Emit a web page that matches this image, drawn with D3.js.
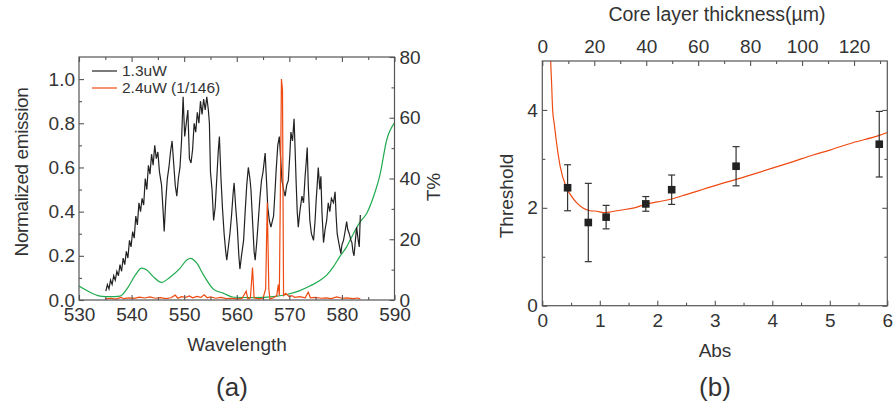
<!DOCTYPE html>
<meta charset="utf-8">
<style>
body { margin: 0; background: #fff; }
text { font-family: "Liberation Sans", Arial, sans-serif; fill: #333; }
.frame { fill: none; stroke: #555; stroke-width: 1.2px; }
.axis path { display: none; }
.axis line { stroke: #555; stroke-width: 1.1px; }
.axis text { font-size: 19px; fill: #333; }
.line { fill: none; stroke-width: 1.2px; }
</style>
<body>
<script src="https://d3js.org/d3.v7.min.js"></script>
<script>

// ---- panel (a) data ----
let emission13 = [[535.1,0.04],[535.4,0.07],[535.7,0.05],[536.0,0.09],[536.3,0.07],[536.6,0.11],[536.9,0.09],[537.2,0.13],[537.5,0.11],[537.8,0.16],[538.1,0.13],[538.4,0.19],[538.7,0.16],[539.0,0.22],[539.3,0.19],[539.6,0.27],[539.9,0.24],[540.2,0.31],[540.5,0.28],[540.8,0.38],[541.1,0.34],[541.4,0.44],[541.7,0.40],[542.0,0.46],[542.3,0.43],[542.6,0.55],[542.9,0.50],[543.2,0.61],[543.5,0.57],[543.8,0.66],[544.1,0.61],[544.4,0.70],[544.7,0.64],[545.0,0.67],[545.3,0.58],[545.7,0.52],[546.0,0.40],[546.2,0.31],[546.5,0.45],[546.8,0.55],[547.1,0.60],[547.4,0.67],[547.7,0.72],[548.0,0.62],[548.3,0.52],[548.6,0.47],[548.9,0.55],[549.2,0.60],[549.5,0.72],[549.8,0.92],[550.1,0.74],[550.4,0.80],[550.7,0.86],[551.0,0.64],[551.3,0.62],[551.6,0.68],[551.9,0.80],[552.2,0.76],[552.5,0.85],[552.8,0.80],[553.1,0.90],[553.4,0.84],[553.7,0.91],[554.0,0.86],[554.3,0.92],[554.6,0.86],[554.8,0.80],[555.0,0.58],[555.3,0.50],[555.6,0.36],[555.9,0.42],[556.2,0.55],[556.5,0.68],[556.7,0.74],[557.0,0.55],[557.3,0.41],[557.6,0.30],[557.9,0.22],[558.1,0.18],[558.4,0.24],[558.7,0.30],[559.0,0.38],[559.3,0.48],[559.5,0.53],[559.8,0.42],[560.1,0.33],[560.4,0.20],[560.6,0.14],[560.9,0.20],[561.3,0.27],[561.6,0.40],[561.9,0.52],[562.2,0.60],[562.5,0.55],[562.7,0.50],[563.0,0.36],[563.3,0.22],[563.5,0.18],[563.8,0.26],[564.1,0.36],[564.4,0.46],[564.7,0.54],[565.0,0.58],[565.4,0.665],[565.7,0.52],[565.9,0.42],[566.2,0.36],[566.5,0.33],[566.8,0.36],[567.0,0.38],[567.3,0.50],[567.5,0.59],[567.8,0.70],[568.1,0.74],[568.4,0.62],[568.6,0.54],[568.9,0.50],[569.2,0.47],[569.5,0.52],[569.8,0.54],[570.1,0.66],[570.3,0.76],[570.6,0.72],[570.9,0.82],[571.1,0.68],[571.3,0.53],[571.5,0.40],[571.7,0.33],[572.0,0.40],[572.4,0.47],[572.7,0.44],[573.0,0.56],[573.2,0.62],[573.4,0.69],[573.6,0.52],[573.9,0.36],[574.2,0.30],[574.6,0.27],[574.9,0.36],[575.1,0.45],[575.3,0.52],[575.5,0.60],[575.8,0.50],[576.0,0.56],[576.2,0.40],[576.5,0.26],[576.8,0.32],[577.1,0.36],[577.4,0.44],[577.7,0.40],[578.0,0.46],[578.4,0.44],[578.7,0.49],[578.9,0.38],[579.1,0.30],[579.4,0.26],[579.8,0.21],[580.0,0.25],[580.3,0.27],[580.6,0.31],[580.9,0.355],[581.1,0.32],[581.4,0.30],[581.7,0.27],[581.9,0.26],[582.1,0.22],[582.3,0.20],[582.6,0.28],[582.8,0.33],[583.1,0.27],[583.3,0.24],[583.5,0.385]];

let emission24 = [[535.0,0.005],[536.0,0.008],[537.0,0.004],[538.0,0.012],[538.5,0.006],[539.5,0.010],[540.5,0.007],[541.5,0.013],[542.5,0.009],[543.5,0.014],[544.5,0.008],[545.5,0.011],[546.5,0.006],[547.5,0.010],[548.3,0.022],[548.8,0.008],[549.5,0.015],[550.3,0.012],[551.0,0.018],[551.6,0.010],[552.4,0.016],[553.2,0.012],[553.8,0.024],[554.4,0.010],[555.0,0.014],[556.0,0.008],[557.0,0.012],[558.0,0.006],[559.0,0.008],[560.0,0.005],[561.0,0.007],[561.8,0.040],[562.1,0.005],[562.6,0.010],[563.0,0.147],[563.3,0.010],[564.0,0.006],[565.0,0.008],[565.5,0.050],[565.8,0.440],[566.1,0.050],[566.3,0.005],[567.0,0.010],[567.6,0.020],[567.9,0.070],[568.1,0.020],[568.3,0.500],[568.5,1.000],[568.7,0.950],[568.9,0.020],[569.3,0.030],[570.0,0.015],[570.5,0.020],[571.0,0.012],[572.0,0.015],[573.0,0.010],[573.6,0.035],[574.0,0.010],[575.0,0.012],[576.0,0.008],[577.0,0.010],[578.0,0.006],[579.0,0.014],[580.0,0.008],[581.0,0.010],[582.0,0.006],[583.0,0.009],[583.5,0.005]];

let transmission = [[530,4.6],[531.5,3.1],[534.0,1.3],[535.9,1.1],[537.8,1.3],[539.4,4.4],[540.7,8.2],[541.9,10.5],[542.9,9.9],[544.1,7.7],[545.7,5.8],[547.3,7.5],[549.2,10.4],[550.5,13.2],[551.2,13.7],[552.4,12.1],[553.7,8.2],[555.6,3.5],[557.5,2.2],[559.4,0.9],[563.2,0.8],[567.0,1.1],[569.5,1.8],[572.0,3.1],[573.9,4.6],[575.8,6.4],[577.1,8.2],[578.4,11.0],[579.6,14.3],[580.9,17.5],[582.2,21.9],[583.5,25.8],[584.7,28.5],[586.0,34.0],[587.3,41.7],[588.5,52.6],[590,58.3]];

let legendLabels = ["1.3uW", "2.4uW (1/146)"];

// ---- panel (b) data ----
let absValues = [0.44, 0.80, 1.11, 1.80, 2.25, 3.37, 5.86];
let thresholdValues = [2.41, 1.70, 1.81, 2.08, 2.37, 2.85, 3.30];
let thresholdErr = [0.47, 0.80, 0.24, 0.15, 0.30, 0.40, 0.67];
let fitCurve = [[0.140,5.3],[0.146,5.0],[0.16,4.6],[0.18,4.0],[0.21,3.7],[0.24,3.40],[0.31,2.85],[0.42,2.41],[0.5,2.25],[0.6,2.10],[0.7,2.0],[0.83,1.94],[0.95,1.93],[1.06,1.90],[1.2,1.92],[1.35,1.95],[1.6,2.0],[1.82,2.08],[2.0,2.12],[2.25,2.18],[2.5,2.27],[2.8,2.38],[3.1,2.49],[3.37,2.58],[3.7,2.70],[4.0,2.81],[4.35,2.94],[4.71,3.08],[5.0,3.18],[5.4,3.33],[5.86,3.48],[6.0,3.54]];

let W = 893, H = 411;
let svg = d3.select("body").append("svg").attr("width", W).attr("height", H);

function frame(g, x0, x1, y0, y1) {
    g.append("rect").attr("class", "frame")
        .attr("x", x0).attr("y", y1).attr("width", x1 - x0).attr("height", y0 - y1);
}

function ticks(g, axisFn, scale, major, minor, fmt, pad, pos) {
    let a = g.append("g").attr("class", "axis").attr("transform", pos)
        .call(axisFn(scale).tickValues(major).tickSize(-5).tickPadding(pad).tickFormat(fmt));
    g.append("g").attr("class", "axis").attr("transform", pos)
        .call(axisFn(scale).tickValues(minor).tickSize(-3).tickFormat(""));
    return a;
}

// ===== panel (a) =====
let ga = svg.append("g");
let xa = d3.scaleLinear().domain([530, 590]).range([79, 394.5]);
let ya = d3.scaleLinear().domain([0, 1.1]).range([300, 57]);
let yt = d3.scaleLinear().domain([0, 80]).range([300, 57]);

ga.append("clipPath").attr("id", "clipA").append("rect")
    .attr("x", 79).attr("y", 57).attr("width", 315.5).attr("height", 243);

let lineA = d3.line().x(d => xa(d[0])).y(d => ya(d[1]));
let lineT = d3.line().x(d => xa(d[0])).y(d => yt(d[1])).curve(d3.curveMonotoneX);

ga.append("path").datum(transmission).attr("class", "line")
    .attr("clip-path", "url(#clipA)").attr("stroke", "#1faa4e").attr("d", lineT);
ga.append("path").datum(emission13).attr("class", "line")
    .attr("stroke", "#222").attr("d", lineA);
ga.append("path").datum(emission24).attr("class", "line")
    .attr("stroke", "#ee4a12").attr("d", lineA);

frame(ga, 79, 394.5, 300, 57);
ticks(ga, d3.axisBottom, xa, d3.range(530, 591, 10), d3.range(535, 590, 10), d3.format("d"), 8, "translate(0,300)");
ticks(ga, d3.axisTop, xa, d3.range(530, 591, 10), d3.range(535, 590, 10), "", 0, "translate(0,57)");
ticks(ga, d3.axisLeft, ya, d3.range(0, 1.01, 0.2), d3.range(0.1, 1.1, 0.2), d3.format(".1f"), 4, "translate(79,0)");
ticks(ga, d3.axisRight, yt, d3.range(0, 81, 20), d3.range(10, 80, 20), d3.format("d"), 5, "translate(394.5,0)");

// legend
let legColors = ["#222", "#ee4a12"];
legendLabels.forEach(function (lab, i) {
    let yy = 71 + i * 17;
    ga.append("line").attr("x1", 92).attr("x2", 117).attr("y1", yy).attr("y2", yy)
        .attr("stroke", legColors[i]).attr("stroke-width", 1.2);
    ga.append("text").attr("x", 122).attr("y", yy + 5).style("font-size", "15.5px").text(lab);
});

ga.append("text").attr("transform", "translate(28,172) rotate(-90)")
    .attr("text-anchor", "middle").style("font-size", "19px").style("letter-spacing", "-0.4px")
    .text("Normalized emission");
ga.append("text").attr("transform", "translate(440,187) rotate(-90)")
    .attr("text-anchor", "middle").style("font-size", "19px").text("T%");
ga.append("text").attr("x", 237).attr("y", 351).attr("text-anchor", "middle")
    .style("font-size", "19px").text("Wavelength");
ga.append("text").attr("x", 232).attr("y", 396).attr("text-anchor", "middle")
    .style("font-size", "26px").text("(a)");

// ===== panel (b) =====
let gb = svg.append("g");
let xb = d3.scaleLinear().domain([0, 6]).range([542.3, 887.3]);
let xTop = d3.scaleLinear().domain([0, 132.8]).range([542.3, 887.3]);
let yb = d3.scaleLinear().domain([0, 5]).range([305.7, 61]);

gb.append("clipPath").attr("id", "clipB").append("rect")
    .attr("x", 542.3).attr("y", 61).attr("width", 345).attr("height", 244.7);

gb.append("path").datum(fitCurve).attr("class", "line")
    .attr("clip-path", "url(#clipB)").attr("stroke", "#ee4a12")
    .attr("d", d3.line().x(d => xb(d[0])).y(d => yb(d[1])).curve(d3.curveMonotoneX));

let pts = absValues.map((a, i) => ({a: a, t: thresholdValues[i], e: thresholdErr[i]}));
let eb = gb.selectAll(".err").data(pts).enter().append("g").attr("class", "err");
eb.append("line").attr("x1", d => xb(d.a)).attr("x2", d => xb(d.a))
    .attr("y1", d => yb(d.t - d.e)).attr("y2", d => yb(d.t + d.e))
    .attr("stroke", "#333").attr("stroke-width", 1.2);
[-1, 1].forEach(function (s) {
    eb.append("line").attr("x1", d => xb(d.a) - 3.5).attr("x2", d => xb(d.a) + 3.5)
        .attr("y1", d => yb(d.t + s * d.e)).attr("y2", d => yb(d.t + s * d.e))
        .attr("stroke", "#333").attr("stroke-width", 1.2);
});
eb.append("rect").attr("x", d => xb(d.a) - 3.8).attr("y", d => yb(d.t) - 3.8)
    .attr("width", 7.6).attr("height", 7.6).attr("fill", "#222");

frame(gb, 542.3, 887.3, 305.7, 61);
ticks(gb, d3.axisBottom, xb, d3.range(0, 7, 1), d3.range(0.5, 6, 1), d3.format("d"), 7.5, "translate(0,305.7)");
ticks(gb, d3.axisTop, xTop, d3.range(0, 121, 20), d3.range(10, 131, 20), d3.format("d"), 8, "translate(0,61)");
ticks(gb, d3.axisLeft, yb, [0, 2, 4], [1, 3], d3.format("d"), 4.5, "translate(542.3,0)");
ticks(gb, d3.axisRight, yb, [0, 2, 4], [1, 3], "", 0, "translate(887.3,0)");

gb.append("text").attr("x", 717).attr("y", 21).attr("text-anchor", "middle")
    .style("font-size", "19.5px").text("Core layer thickness(\u00b5m)");
gb.append("text").attr("x", 715).attr("y", 357).attr("text-anchor", "middle")
    .style("font-size", "19px").text("Abs");
gb.append("text").attr("transform", "translate(513,196) rotate(-90)")
    .attr("text-anchor", "middle").style("font-size", "19px").text("Threshold");
gb.append("text").attr("x", 715).attr("y", 396).attr("text-anchor", "middle")
    .style("font-size", "26px").text("(b)");

</script>
</body>
